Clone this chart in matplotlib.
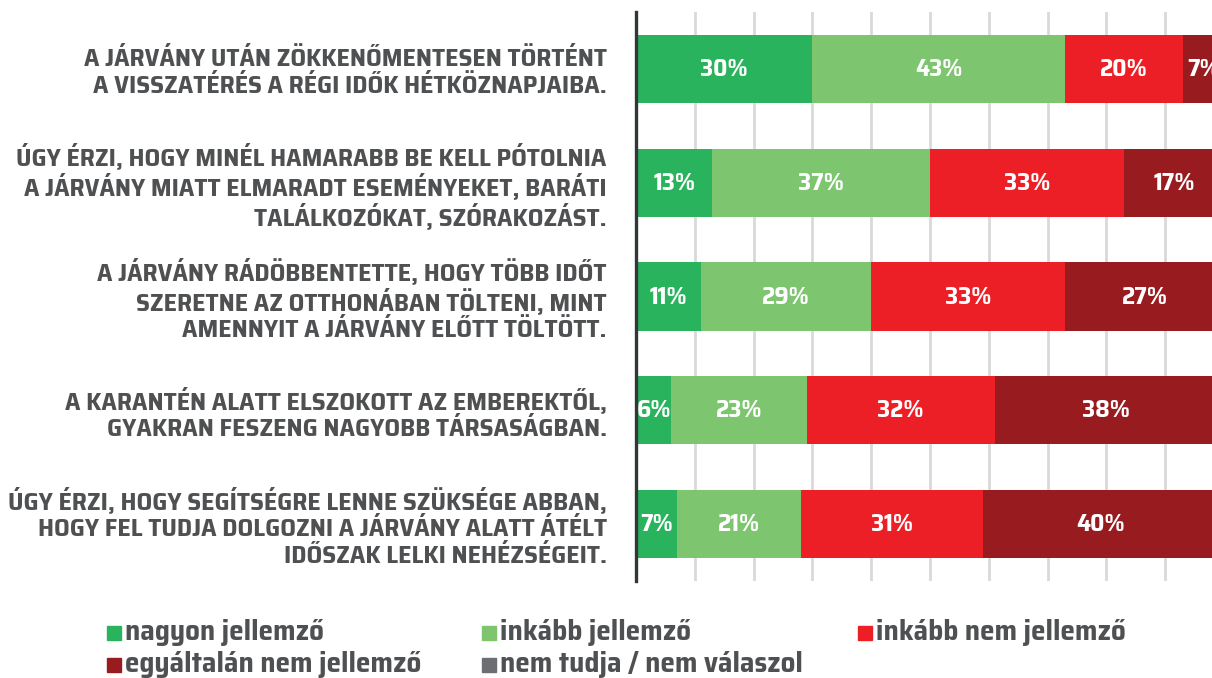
import matplotlib
matplotlib.use("Agg")
import matplotlib.pyplot as plt
from matplotlib.patches import Rectangle
import numpy as np

# adatok
kategoriak = [
    "A JÁRVÁNY UTÁN ZÖKKENŐMENTESEN TÖRTÉNT\nA VISSZATÉRÉS A RÉGI IDŐK HÉTKÖZNAPJAIBA.",
    "ÚGY ÉRZI, HOGY MINÉL HAMARABB BE KELL PÓTOLNIA\nA JÁRVÁNY MIATT ELMARADT ESEMÉNYEKET, BARÁTI\nTALÁLKOZÓKAT, SZÓRAKOZÁST.",
    "A JÁRVÁNY RÁDÖBBENTETTE, HOGY TÖBB IDŐT\nSZERETNE AZ OTTHONÁBAN TÖLTENI, MINT\nAMENNYIT A JÁRVÁNY ELŐTT TÖLTÖTT.",
    "A KARANTÉN ALATT ELSZOKOTT AZ EMBEREKTŐL,\nGYAKRAN FESZENG NAGYOBB TÁRSASÁGBAN.",
    "ÚGY ÉRZI, HOGY SEGÍTSÉGRE LENNE SZÜKSÉGE ABBAN,\nHOGY FEL TUDJA DOLGOZNI A JÁRVÁNY ALATT ÁTÉLT\nIDŐSZAK LELKI NEHÉZSÉGEIT.",
]
nagyon = [30, 13, 11, 6, 7]
inkabb = [43, 37, 29, 23, 21]
inkabb_nem = [20, 33, 33, 32, 31]
egyaltalan_nem = [7, 17, 27, 38, 40]
nem_tudja = [0, 0, 0, 1, 1]

sorozatok = ["nagyon jellemző", "inkább jellemző", "inkább nem jellemző",
             "egyáltalán nem jellemző", "nem tudja / nem válaszol"]
ertekek = [nagyon, inkabb, inkabb_nem, egyaltalan_nem, nem_tudja]
szinek = ["#29b35d", "#7dc56f", "#ec1f27", "#981b1f", "#6d6e71"]

BETU = ["Saira SemiCondensed", "DejaVu Sans"]
SZURKE = "#4f5052"

fig = plt.figure(figsize=(12.12, 6.78), dpi=100)
W, H = 1212, 678
ax = fig.add_axes([636 / W, 1 - 581 / H, 588 / W, 569 / H])

y = np.arange(len(kategoriak))
bal = np.zeros(len(kategoriak))
for nev, vals, szin in zip(sorozatok, ertekek, szinek):
    vals = np.array(vals, dtype=float)
    ax.barh(y, vals, left=bal, height=0.6, color=szin, zorder=3, label=nev)
    for yi, b, v in zip(y, bal, vals):
        if v > 0 and nev != sorozatok[-1]:
            ax.text(b + v / 2, yi, f"{int(v)}%", ha="center", va="center",
                    color="white", fontsize=18, fontweight="bold",
                    family=BETU, zorder=4, clip_on=False)
    bal += vals

ax.set_xlim(0, 100)
ax.set_ylim(4.5, -0.5)
ax.set_xticks(np.arange(10, 100, 10))
ax.tick_params(axis="x", length=0, labelbottom=False)
ax.grid(axis="x", color="#d9d9d9", linewidth=2, zorder=0)
ax.set_yticks(y)
ax.set_yticklabels(kategoriak, fontsize=18.5, fontweight="bold", color=SZURKE,
                   family=BETU, linespacing=1.15)
ax.tick_params(axis="y", length=0, pad=21)
for lab in ax.get_yticklabels():
    lab.set_multialignment("right")
for s in ["top", "right", "bottom"]:
    ax.spines[s].set_visible(False)
ax.spines["left"].set_color("#333639")
ax.spines["left"].set_linewidth(2.4)
ax.spines["left"].set_zorder(5)

# jelmagyarázat
oszlop_x = [107, 482, 858]
sor_y = [633, 665]
for i, (nev, szin) in enumerate(zip(sorozatok, szinek)):
    px = oszlop_x[i % 3]
    py = sor_y[i // 3]
    fig.add_artist(Rectangle((px / W, 1 - (py + 7) / H), 14 / W, 14 / H,
                             transform=fig.transFigure, color=szin))
    fig.text((px + 18) / W, 1 - py / H, nev, ha="left", va="center",
             fontsize=21, fontweight="bold", color=SZURKE, family=BETU)

fig.savefig("out.png", dpi=100)
